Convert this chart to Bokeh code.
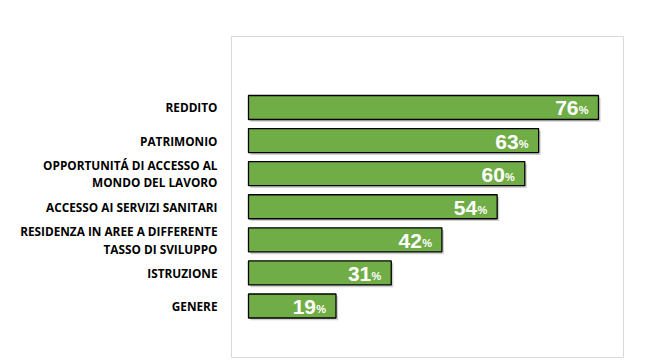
from bokeh.plotting import figure
from bokeh.models import FixedTicker, ColumnDataSource, Range1d
from bokeh.embed import file_html
from bokeh.resources import INLINE
from bokeh.core.properties import value

categories = [
    "REDDITO",
    "PATRIMONIO",
    "OPPORTUNITÁ DI ACCESSO AL\nMONDO DEL LAVORO",
    "ACCESSO AI SERVIZI SANITARI",
    "RESIDENZA IN AREE A DIFFERENTE\nTASSO DI SVILUPPO",
    "ISTRUZIONE",
    "GENERE",
]
values = [76, 63, 60, 54, 42, 31, 19]

n = len(categories)
ypos = [n - 1 - i for i in range(n)]
num_labels = [str(v) for v in values]

src = ColumnDataSource(dict(y=ypos, v=values, lab=num_labels,
                            ys=[y - 0.07 for y in ypos],
                            vs=[v + 0.45 for v in values]))

p = figure(width=624, height=358, output_backend="svg", toolbar_location=None,
           x_range=Range1d(-3.69, 81.43), y_range=Range1d(-1.557, 8.146),
           min_border_left=231, min_border_top=36, min_border_right=1,
           min_border_bottom=1)
p.outline_line_color = "#d9d9d9"
p.outline_line_width = 1
p.xaxis.visible = False
p.xgrid.visible = False
p.ygrid.visible = False

# shadow
p.hbar(y="ys", right="vs", left=0.45, height=0.725, source=src,
       fill_color="#9a9a9a", fill_alpha=0.45, line_color=None)
p.hbar(y="y", right="v", left=0, height=0.725, source=src,
       fill_color="#70AD47", line_color="black", line_width=1.3)

p.text(x="v", y="y", text="lab", source=src, x_offset=-20, y_offset=1,
       text_align="right", text_baseline="middle", text_color="white",
       text_font=value("Liberation Sans"), text_font_style="bold",
       text_font_size="21px")
p.text(x="v", y="y", text=value("%"), source=src, x_offset=-10, y_offset=3,
       text_align="right", text_baseline="middle", text_color="white",
       text_font=value("Liberation Sans"), text_font_style="bold",
       text_font_size="11px")

ax = p.yaxis[0]
ax.ticker = FixedTicker(ticks=ypos)
ax.major_label_overrides = {y: c for y, c in zip(ypos, categories)}
ax.axis_line_color = None
ax.major_tick_line_color = None
ax.minor_tick_line_color = None
ax.major_label_standoff = 8
ax.major_label_text_font = "Open Sans"
ax.major_label_text_font_style = "bold"
ax.major_label_text_font_size = "11.8px"
ax.major_label_text_line_height = 1.1
ax.major_label_text_color = "black"

open("out.html", "w").write(file_html(p, INLINE))
